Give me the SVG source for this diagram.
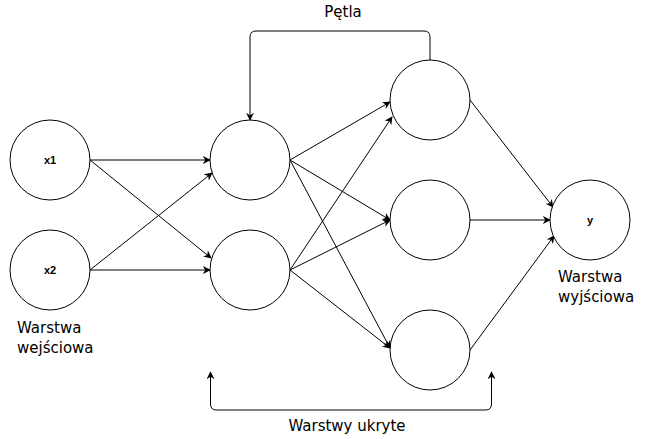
<svg xmlns="http://www.w3.org/2000/svg" width="651" height="439" viewBox="0 0 651 439">
<defs>
<marker id="arr" viewBox="0 0 10 10" refX="9" refY="5" markerWidth="8" markerHeight="8" markerUnits="userSpaceOnUse" orient="auto-start-reverse">
<path d="M0,0 L10,5 L0,10 L3,5 z" fill="#000"/>
</marker>
</defs>
<style>
.node{fill:#fff;stroke:#000;stroke-width:1}
.edge{fill:none;stroke:#000;stroke-width:1;marker-end:url(#arr)}
.nl{font-family:"Liberation Sans",Arial,sans-serif;font-size:11px;font-weight:bold;text-anchor:middle;fill:#000}
.lbl{font-family:"DejaVu Sans ExtraLight","DejaVu Sans",Verdana,sans-serif;font-size:15px;fill:#000}
</style>
<rect width="651" height="439" fill="#fff"/>
<g id="connectors">
<line class="edge" x1="90" y1="160" x2="210" y2="160"/>
<line class="edge" x1="90" y1="160" x2="211" y2="258"/>
<line class="edge" x1="90" y1="270" x2="212" y2="173"/>
<line class="edge" x1="90" y1="270" x2="210" y2="270"/>
<line class="edge" x1="290" y1="160" x2="390" y2="102"/>
<line class="edge" x1="290" y1="270" x2="392" y2="117"/>
<line class="edge" x1="290" y1="160" x2="390" y2="220"/>
<line class="edge" x1="290" y1="270" x2="390" y2="220"/>
<line class="edge" x1="290" y1="160" x2="390" y2="348"/>
<line class="edge" x1="290" y1="270" x2="390" y2="348"/>
<line class="edge" x1="470" y1="100" x2="553" y2="207"/>
<line class="edge" x1="470" y1="220" x2="550" y2="220"/>
<line class="edge" x1="470" y1="350" x2="554" y2="236"/>
<path class="edge" d="M430,60 V37 Q430,31 424,31 H256 Q250,31 250,37 V120"/>
<path class="edge" style="marker-start:url(#arr)" d="M210.5,372 V404 Q210.5,410 216.5,410 H485.5 Q491.5,410 491.5,404 V372"/>
</g>
<g id="x1"><circle class="node" cx="50" cy="160" r="40"/><text class="nl" x="50" y="164">x1</text></g>
<g id="x2"><circle class="node" cx="50" cy="270" r="40"/><text class="nl" x="50" y="274">x2</text></g>
<g id="h1"><circle class="node" cx="250" cy="160" r="40"/></g>
<g id="h2"><circle class="node" cx="250" cy="270" r="40"/></g>
<g id="h3"><circle class="node" cx="430" cy="100" r="40"/></g>
<g id="h4"><circle class="node" cx="430" cy="220" r="40"/></g>
<g id="h5"><circle class="node" cx="430" cy="350" r="40"/></g>
<g id="y"><circle class="node" cx="590" cy="220" r="40"/><text class="nl" x="590" y="224">y</text></g>
<g id="labels">
<text class="lbl" x="17" y="333">Warstwa</text>
<text class="lbl" x="17" y="353">wejściowa</text>
<text class="lbl" x="558" y="282">Warstwa</text>
<text class="lbl" x="558" y="302">wyjściowa</text>
<text class="lbl" x="343" y="17" text-anchor="middle">Pętla</text>
<text class="lbl" x="347" y="431" text-anchor="middle">Warstwy ukryte</text>
</g>
</svg>
